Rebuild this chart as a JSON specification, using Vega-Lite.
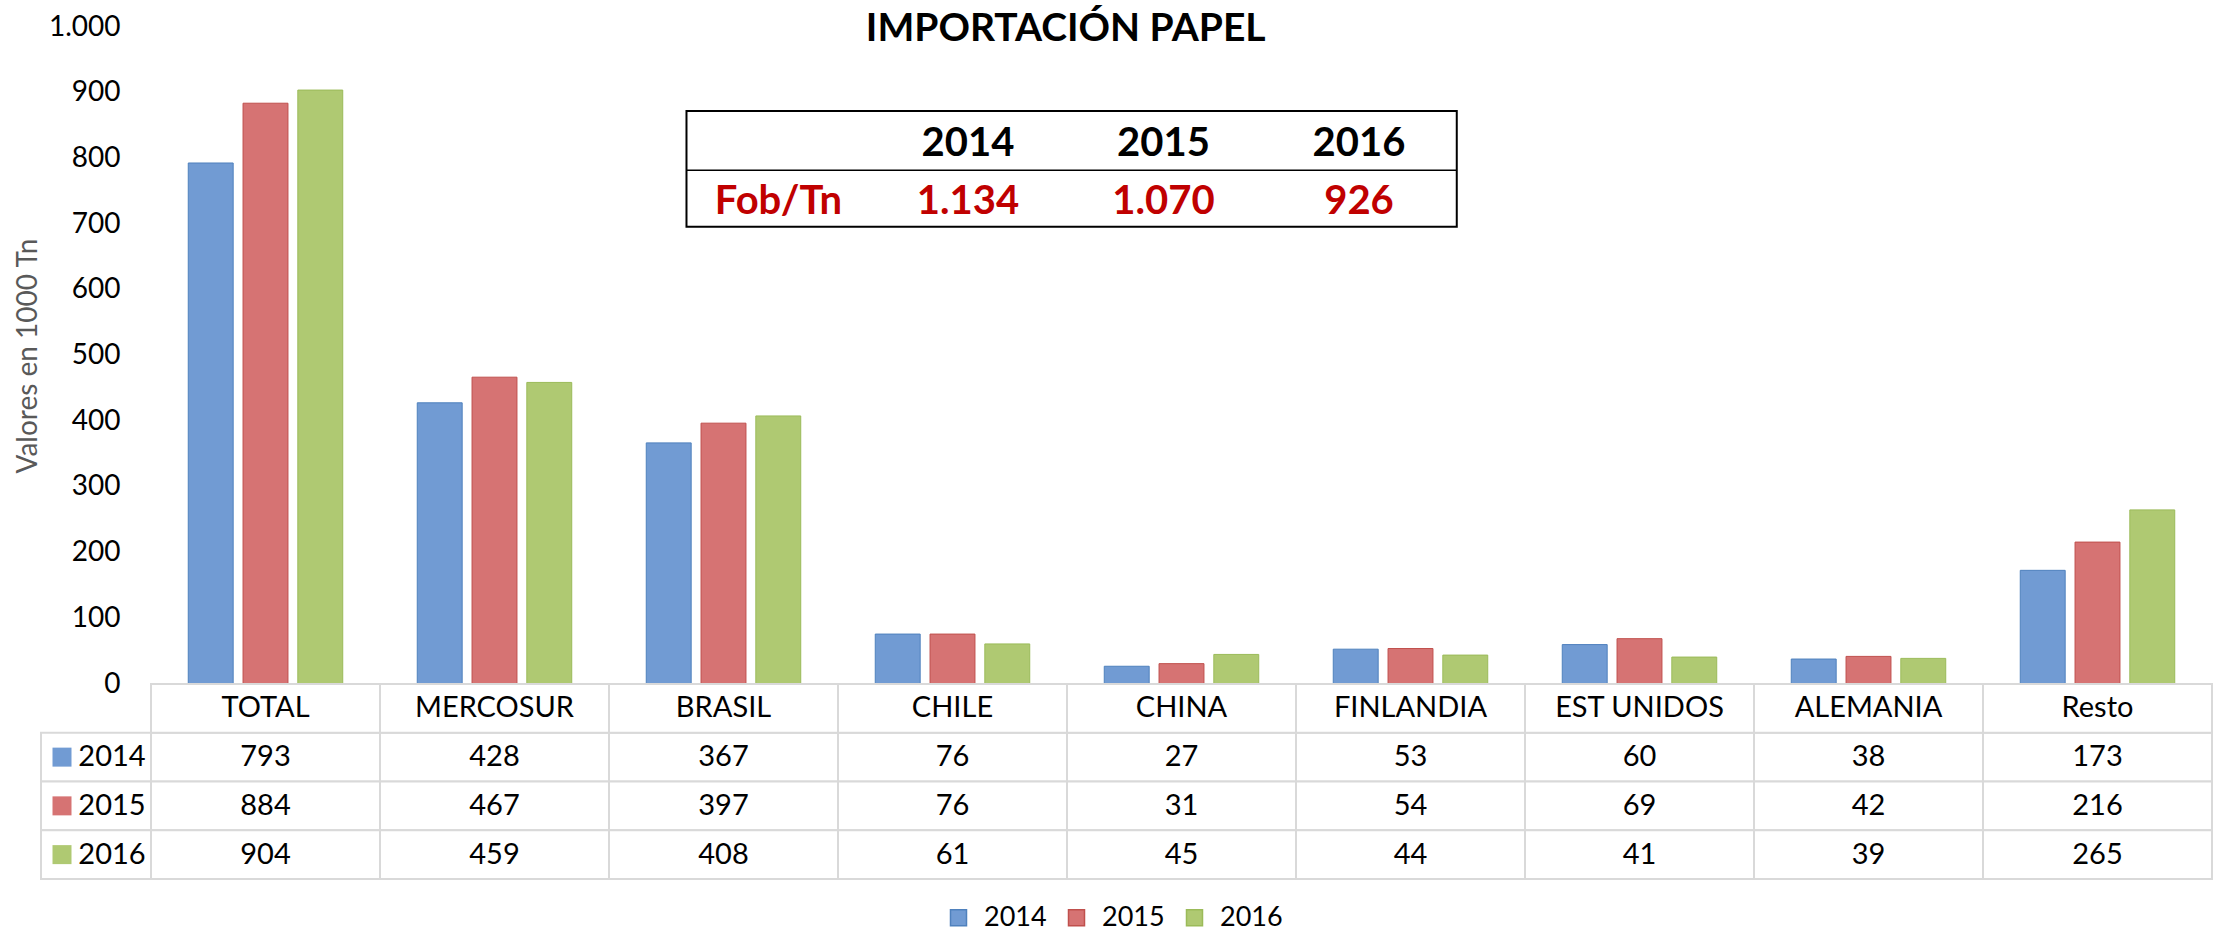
{
  "$schema": "https://vega.github.io/schema/vega-lite/v6.json",
  "padding": {"left": 14, "top": 10, "right": 0, "bottom": 0},
  "title": {"text": "IMPORTACIÓN PAPEL", "fontSize": 39, "font": "Lato", "fontWeight": "bold", "color": "black", "anchor": "middle", "offset": -36, "dx": -48},
  "datasets": {
    "imports": [
      {"categoria": "TOTAL", "anio": "2014", "valor": 793},
      {"categoria": "MERCOSUR", "anio": "2014", "valor": 428},
      {"categoria": "BRASIL", "anio": "2014", "valor": 367},
      {"categoria": "CHILE", "anio": "2014", "valor": 76},
      {"categoria": "CHINA", "anio": "2014", "valor": 27},
      {"categoria": "FINLANDIA", "anio": "2014", "valor": 53},
      {"categoria": "EST UNIDOS", "anio": "2014", "valor": 60},
      {"categoria": "ALEMANIA", "anio": "2014", "valor": 38},
      {"categoria": "Resto", "anio": "2014", "valor": 173},
      {"categoria": "TOTAL", "anio": "2015", "valor": 884},
      {"categoria": "MERCOSUR", "anio": "2015", "valor": 467},
      {"categoria": "BRASIL", "anio": "2015", "valor": 397},
      {"categoria": "CHILE", "anio": "2015", "valor": 76},
      {"categoria": "CHINA", "anio": "2015", "valor": 31},
      {"categoria": "FINLANDIA", "anio": "2015", "valor": 54},
      {"categoria": "EST UNIDOS", "anio": "2015", "valor": 69},
      {"categoria": "ALEMANIA", "anio": "2015", "valor": 42},
      {"categoria": "Resto", "anio": "2015", "valor": 216},
      {"categoria": "TOTAL", "anio": "2016", "valor": 904},
      {"categoria": "MERCOSUR", "anio": "2016", "valor": 459},
      {"categoria": "BRASIL", "anio": "2016", "valor": 408},
      {"categoria": "CHILE", "anio": "2016", "valor": 61},
      {"categoria": "CHINA", "anio": "2016", "valor": 45},
      {"categoria": "FINLANDIA", "anio": "2016", "valor": 44},
      {"categoria": "EST UNIDOS", "anio": "2016", "valor": 41},
      {"categoria": "ALEMANIA", "anio": "2016", "valor": 39},
      {"categoria": "Resto", "anio": "2016", "valor": 265}
    ],
    "fob": [
      {"anio": 2014, "fob": "1.134"},
      {"anio": 2015, "fob": "1.070"},
      {"anio": 2016, "fob": "926"}
    ],
    "one": [{"nota": "Fob/Tn"}]
  },
  "columns": 2,
  "spacing": 0,
  "bounds": "flush",
  "resolve": {"scale": {"color": "shared"}, "legend": {"color": "shared"}},
  "concat": [
    {
      "width": 110,
      "height": 657,
      "data": {"values": []},
      "mark": {"type": "point", "opacity": 0},
      "encoding": {}
    },
    {
      "width": 2061,
      "height": 657,
      "layer": [
        {
          "data": {"name": "imports"},
          "mark": {"type": "bar", "strokeWidth": 1},
          "encoding": {
            "x": {"field": "categoria", "type": "nominal",
                  "scale": {"domain": ["TOTAL", "MERCOSUR", "BRASIL", "CHILE", "CHINA", "FINLANDIA", "EST UNIDOS", "ALEMANIA", "Resto"], "paddingInner": 0, "paddingOuter": 0},
                  "axis": {"labels": false, "ticks": false, "title": null, "domainColor": "#bfbfbf", "domainWidth": 2}},
            "xOffset": {"field": "anio", "type": "nominal", "scale": {"domain": ["2014", "2015", "2016"], "paddingInner": 0.18, "paddingOuter": 0.68}},
            "y": {"field": "valor", "type": "quantitative",
                  "scale": {"domain": [0, 1000], "nice": false},
                  "axis": {"title": "Valores en 1000 Tn", "titleFontSize": 28, "titleColor": "#595959", "titleFontWeight": "normal", "titleFont": "Lato",
                           "labelFontSize": 28, "labelColor": "black", "labelFont": "Lato", "ticks": false, "domain": false, "grid": false,
                           "labelPadding": 31, "titlePadding": 6,
                           "values": [0, 100, 200, 300, 400, 500, 600, 700, 800, 900, 1000],
                           "labelExpr": "replace(format(datum.value, ','), ',', '.')"}},
            "color": {"field": "anio", "type": "nominal",
                      "scale": {"domain": ["2014", "2015", "2016"], "range": ["#719bd3", "#d67373", "#afc972"]},
                      "legend": {"orient": "bottom", "direction": "horizontal", "title": null, "symbolType": "square", "symbolSize": 256,
                                 "labelFontSize": 27, "labelFont": "Lato", "labelColor": "black", "columnPadding": 16, "labelOffset": 12, "offset": 24}},
            "stroke": {"field": "anio", "type": "nominal",
                       "scale": {"domain": ["2014", "2015", "2016"], "range": ["#4f81bd", "#c0504d", "#9bbb59"]},
                       "legend": null}
          }
        },
        {
          "layer": [
            {
              "data": {"name": "one"},
              "mark": {"type": "rect", "fill": "white", "stroke": "black", "strokeWidth": 2},
              "encoding": {
                "x": {"datum": 2012.56, "type": "quantitative", "scale": {"domain": [2009.821, 2020.363], "nice": false, "zero": false}, "axis": null},
                "x2": {"datum": 2016.5},
                "y": {"datum": 696, "type": "quantitative"},
                "y2": {"datum": 872}
              }
            },
            {
              "data": {"name": "one"},
              "mark": {"type": "rule", "stroke": "black", "strokeWidth": 1.5},
              "encoding": {
                "x": {"datum": 2012.56, "type": "quantitative"},
                "x2": {"datum": 2016.5},
                "y": {"datum": 782, "type": "quantitative"}
              }
            },
            {
              "data": {"name": "fob"},
              "mark": {"type": "text", "fontSize": 40, "fontWeight": "bold", "font": "Lato", "color": "black"},
              "encoding": {
                "x": {"field": "anio", "type": "quantitative"},
                "y": {"datum": 822, "type": "quantitative"},
                "text": {"field": "anio", "type": "nominal"}
              }
            },
            {
              "data": {"name": "fob"},
              "mark": {"type": "text", "fontSize": 40, "fontWeight": "bold", "font": "Lato", "color": "#c00000"},
              "encoding": {
                "x": {"field": "anio", "type": "quantitative"},
                "y": {"datum": 734, "type": "quantitative"},
                "text": {"field": "fob", "type": "nominal"}
              }
            },
            {
              "data": {"name": "one"},
              "mark": {"type": "text", "fontSize": 40, "fontWeight": "bold", "font": "Lato", "color": "#c00000"},
              "encoding": {
                "x": {"datum": 2013.03, "type": "quantitative"},
                "y": {"datum": 734, "type": "quantitative"},
                "text": {"field": "nota", "type": "nominal"}
              }
            }
          ]
        }
      ],
      "resolve": {"scale": {"x": "independent"}, "axis": {"x": "independent"}}
    },
    {
      "width": 110,
      "height": 195,
      "data": {"name": "imports"},
      "transform": [{"filter": "datum.categoria == 'TOTAL'"}],
      "encoding": {
        "y": {"field": "anio", "type": "nominal", "scale": {"domain": ["header", "2014", "2015", "2016"], "paddingInner": 0, "paddingOuter": 0}, "axis": null}
      },
      "layer": [
        {
          "mark": {"type": "rect", "fill": "white", "stroke": "#d9d9d9", "strokeWidth": 2}
        },
        {
          "mark": {"type": "point", "shape": "square", "filled": true, "size": 361, "opacity": 1},
          "encoding": {
            "x": {"datum": "swatch", "type": "nominal", "scale": {"type": "point", "domain": ["swatch", "label"], "padding": 0.6, "align": 0.35}, "axis": null},
            "color": {"field": "anio", "type": "nominal"}
          }
        },
        {
          "mark": {"type": "text", "fontSize": 29, "font": "Lato", "color": "black"},
          "encoding": {
            "x": {"datum": "label", "type": "nominal"},
            "text": {"field": "anio", "type": "nominal"}
          }
        }
      ]
    },
    {
      "width": 2061,
      "height": 195,
      "encoding": {
        "x": {"field": "categoria", "type": "nominal",
              "scale": {"domain": ["TOTAL", "MERCOSUR", "BRASIL", "CHILE", "CHINA", "FINLANDIA", "EST UNIDOS", "ALEMANIA", "Resto"], "paddingInner": 0, "paddingOuter": 0},
              "axis": null}
      },
      "layer": [
        {
          "data": {"name": "imports"},
          "mark": {"type": "rect", "fill": "white", "stroke": "#d9d9d9", "strokeWidth": 2},
          "encoding": {
            "y": {"field": "anio", "type": "nominal", "scale": {"domain": ["header", "2014", "2015", "2016"], "paddingInner": 0, "paddingOuter": 0}, "axis": null}
          }
        },
        {
          "data": {"name": "imports"},
          "transform": [{"filter": "datum.anio == '2014'"}],
          "mark": {"type": "rect", "fill": "white", "stroke": "#d9d9d9", "strokeWidth": 2},
          "encoding": {
            "y": {"datum": "header", "type": "nominal"}
          }
        },
        {
          "data": {"name": "imports"},
          "mark": {"type": "text", "fontSize": 29, "font": "Lato", "color": "black"},
          "encoding": {
            "y": {"field": "anio", "type": "nominal"},
            "text": {"field": "valor", "type": "quantitative"}
          }
        },
        {
          "data": {"name": "imports"},
          "transform": [{"filter": "datum.anio == '2014'"}],
          "mark": {"type": "text", "fontSize": 29, "font": "Lato", "color": "black"},
          "encoding": {
            "y": {"datum": "header", "type": "nominal"},
            "text": {"field": "categoria", "type": "nominal"}
          }
        }
      ]
    }
  ],
  "config": {
    "font": "Lato",
    "view": {"stroke": null},
    "legend": {"layout": {"bottom": {"anchor": "middle"}}}
  }
}
